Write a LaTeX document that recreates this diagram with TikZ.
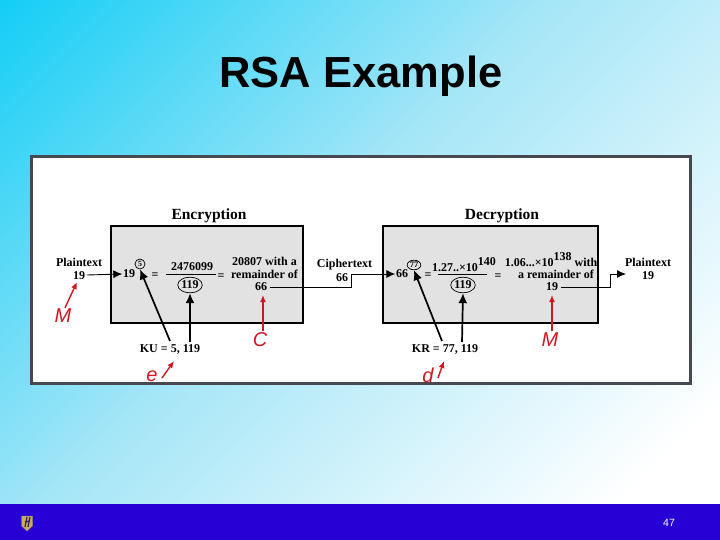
\documentclass[tikz,border=0pt]{standalone}
\usepackage{fontspec}
\setmainfont{Liberation Serif}
\setsansfont{Liberation Sans}
\usetikzlibrary{arrows.meta,shapes.geometric}
\definecolor{bgcyan}{RGB}{20,206,246}
\definecolor{bgmid}{RGB}{165,230,247}
\definecolor{panelline}{RGB}{70,74,80}
\definecolor{boxgray}{RGB}{226,226,226}
\definecolor{barblue}{RGB}{38,0,212}
\definecolor{notered}{RGB}{205,24,34}
\definecolor{logotan}{RGB}{205,170,85}
\definecolor{logodark}{RGB}{45,30,110}
\pgfdeclarehorizontalshading{slidebg}{100bp}{color(0bp)=(bgcyan); color(14.6bp)=(bgcyan); color(41.6bp)=(bgmid); color(70bp)=(white); color(100bp)=(white)}
\tikzset{
  calctext/.style={font=\fontsize{12}{13}\selectfont\bfseries, inner sep=0.5pt, align=center},
  heading/.style={font=\fontsize{15.5}{17}\selectfont\bfseries, inner sep=0pt},
  stagebox/.style={draw=black, fill=boxgray, line width=1.6pt},
  keyring/.style={draw=black, ellipse, line width=0.7pt},
  flow/.style={-{Latex[length=9pt,width=8pt]}, line width=0.9pt},
  keyflow/.style={-{Latex[length=10pt,width=9pt]}, line width=1.7pt},
  note/.style={font=\fontsize{20}{22}\selectfont\sffamily\itshape, text=notered, inner sep=0pt},
  noteflow/.style={-{Latex[length=7pt,width=6pt]}, draw=notered, line width=1.4pt}
}
\begin{document}
\begin{tikzpicture}[x=1pt,y=-1pt]
    \useasboundingbox (0,0) rectangle (720,540);

    % Slide background and bar
    \begin{scope}
        \clip (0,0) rectangle (720,540);
        \shade[shading=slidebg, shading angle=-45] (0,0) rectangle (720,720);
    \end{scope}
    \fill[barblue] (0,504) rectangle (720,540);
    \node[font=\fontsize{43.5}{48}\selectfont\sffamily\bfseries, inner sep=0pt] (title) at (361,76.5) {RSA Example};
    \node[font=\fontsize{10.5}{12}\selectfont\sffamily, text=white, inner sep=0pt] (pagenum) at (669,523) {47};

    % Logo
    \draw[fill=logotan, draw=gray] (21.5,516) -- (32.5,516) -- (32.5,526) -- (27,531) -- (21.5,526) -- cycle;
    \draw[logodark, line width=1.2pt] (25,527) -- (27,517) (28,527) -- (30,517) (25,522) -- (30,521);

    % Panel
    \draw[fill=white, draw=panelline, line width=3pt] (31.5,157) rectangle (690,383.5);

    % Encryption
    \draw[stagebox] (110.7,226) rectangle (303,322.7);
    \node[heading] (enctitle) at (209,216) {Encryption};
    \node[calctext] (plainin) at (79,269) {Plaintext\\19};
    \coordinate (plainout) at (87,275);
    \node[calctext] (basein) at (129,274) {19};
    \node[draw, circle, line width=0.7pt, inner sep=1.2pt, font=\fontsize{8}{9}\selectfont\bfseries] (expe) at (140,264) {5};
    \node[calctext] (eqa) at (155,276) {=};
    \node[calctext] (powa) at (192,267) {2476099};
    \draw[line width=0.7pt] (166,274) -- (216,274);
    \node[calctext, keyring, inner xsep=0pt, inner ysep=1.5pt] (moda) at (190,285) {119};
    \node[calctext] (eqb) at (221,277) {=};
    \node[calctext] (resa) at (264.5,267.5) {20807 with a\\remainder of};
    \node[calctext] (rema) at (261,286.5) {66};

    % Ciphertext
    \node[calctext] (cipher) at (344.5,265) {Ciphertext};
    \node[calctext] (cipherval) at (342,278) {66};
    \coordinate (cipherbend) at (351,287);
    \coordinate (cipherturn) at (351,274);

    % Decryption
    \draw[stagebox] (382.7,226) rectangle (598,322.7);
    \node[heading] (dectitle) at (502,216) {Decryption};
    \node[calctext] (basec) at (402,274) {66};
    \node[draw, ellipse, line width=0.7pt, inner sep=0.6pt, font=\fontsize{8.5}{9}\selectfont\bfseries] (expd) at (414,265) {77};
    \node[calctext] (eqc) at (428,276) {=};
    \node[calctext] (powb) at (464,265) {1.27..×10\raisebox{6pt}{140}};
    \draw[line width=0.7pt] (438,274) -- (487,274);
    \node[calctext, keyring, inner xsep=0pt, inner ysep=1.5pt] (modb) at (463,285) {119};
    \node[calctext] (eqd) at (498,277) {=};
    \node[calctext] (resb) at (551,260) {1.06...×10\raisebox{6pt}{138} with};
    \node[calctext] (resc) at (556,274) {a remainder of};
    \node[calctext] (remb) at (552,286.5) {19};
    \coordinate (plainbend) at (610,287);
    \coordinate (plainturn) at (610,274);
    \node[calctext] (plainend) at (648,269) {Plaintext\\19};
    \coordinate (plaintip) at (626,274);

    % Keys
    \node[calctext] (pubkey) at (170,349) {KU = 5, 119};
    \coordinate (pubd) at (170,341);
    \coordinate (pubn) at (190,342);
    \node[calctext] (privkey) at (445,349) {KR = 77, 119};
    \coordinate (privd) at (442,341);
    \coordinate (privn) at (462,342);

    % Connectors
    \draw[flow] (plainout) -- (basein.west);
    \draw[flow] (rema.east) ++(2,0.5) -- (cipherbend) -- (cipherturn) -- (basec.west);
    \draw[flow] (remb.east) ++(2,0.5) -- (plainbend) -- (plainturn) -- (plaintip);
    \draw[keyflow] (pubd) -- (expe.south);
    \draw[keyflow] (pubn) -- (moda.south);
    \draw[keyflow] (privd) -- (expd.south);
    \draw[keyflow] (privn) -- (modb.south);

    % Red notes
    \node[note] (noteM) at (63,316) {M};
    \node[note] (noteC) at (260,340) {C};
    \node[note] (notee) at (152,376) {e};
    \node[note] (noteMb) at (550,340) {M};
    \node[note] (noted) at (428,375) {d};
    \coordinate (plaintag) at (77,282);
    \coordinate (cipherstart) at (263,331);
    \coordinate (ciphertag) at (263,295);
    \coordinate (etip) at (174,361);
    \coordinate (etail) at (162,378);
    \coordinate (mstart) at (552,331);
    \coordinate (mtag) at (552,295);
    \coordinate (dtip) at (444,361);
    \coordinate (dtail) at (438,378);
    \draw[noteflow] (noteM.north) ++(2,-1) -- (plaintag);
    \draw[noteflow] (cipherstart) -- (ciphertag);
    \draw[noteflow] (etail) -- (etip);
    \draw[noteflow] (mstart) -- (mtag);
    \draw[noteflow] (dtail) -- (dtip);
\end{tikzpicture}
\end{document}
